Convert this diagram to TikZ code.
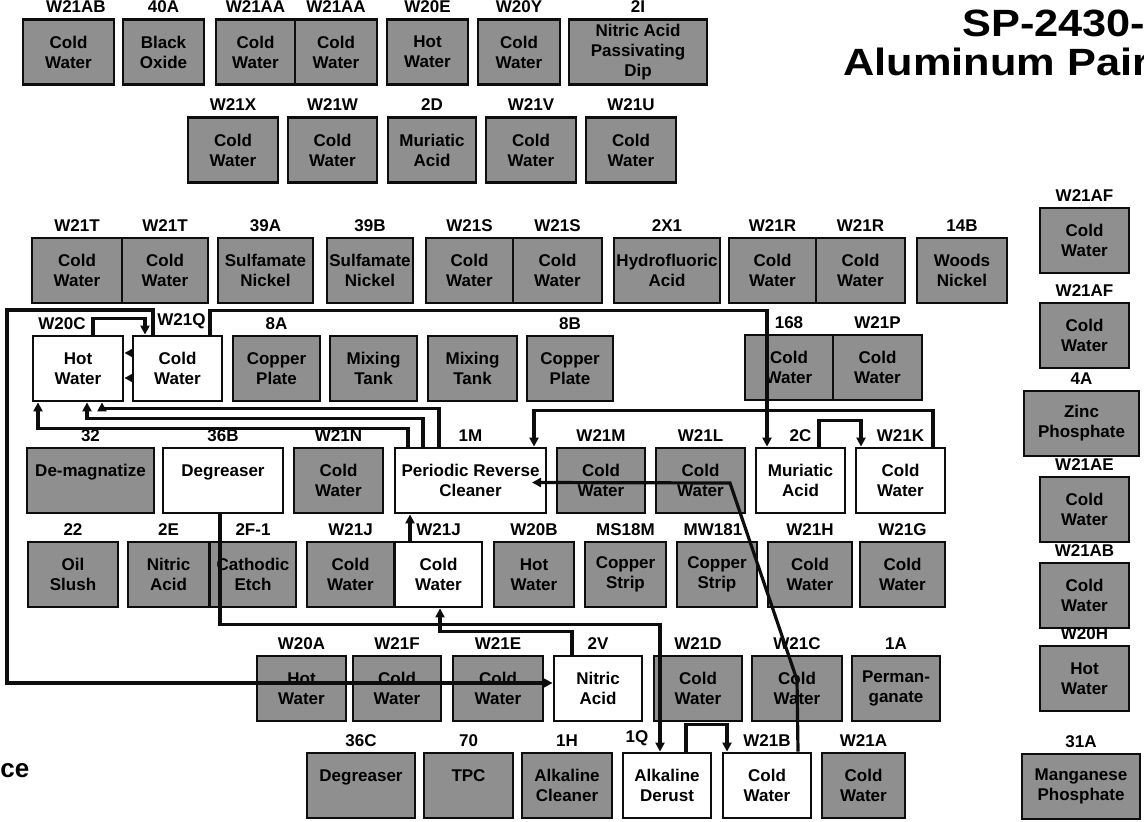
\documentclass[tikz,border=0pt]{standalone}
\usepackage{fontspec}
\setmainfont{Liberation Sans}
\newfontfamily\widefont{Liberation Sans}[FakeStretch=1.14]
\usetikzlibrary{arrows.meta}
\definecolor{Idle}{gray}{0.56}
\definecolor{Line}{gray}{0.05}

\begin{document}
\begin{tikzpicture}[x=0.5pt,y=-0.5pt,>={Triangle[length=4.5pt,width=4.5pt]},
  tank/.style={draw=Line,line width=1.4pt,inner sep=0pt,align=center,
    minimum height=32.5pt,font=\fontsize{8.5}{10}\selectfont\bfseries},
  idle/.style={tank,fill=Idle},
  live/.style={tank,fill=white},
  tag/.style={font=\fontsize{8.5}{10}\selectfont\bfseries,inner sep=0pt},
  every label/.style={tag},label distance=2.5pt,
  flow/.style={draw=Line,line width=1.6pt},
  heading/.style={anchor=base west,inner sep=0pt,font=\widefont\fontsize{19}{21}\selectfont\bfseries}]
\useasboundingbox (0,0) rectangle (1144,822);

% title
\node[heading] (title1) at (962,37) {SP-2430-};
\node[heading] (title2) at (843,76) {Aluminum Pair};
\node[anchor=base west,inner sep=0pt,font=\fontsize{13}{15}\selectfont\bfseries] (legend) at (0,777) {ce};

% row 1
\node[idle,minimum width=45.5pt,label={[xshift=3.75pt]above:W21AB}] (W21ABa) at (68.5,52) {Cold\\Water};
\node[idle,minimum width=40.5pt,label=above:40A] (BO40A) at (163.5,52) {Black\\Oxide};
\node[idle,minimum width=39.5pt,label=above:W21AA] (W21AAa) at (255.5,52) {Cold\\Water};
\node[idle,minimum width=41pt,label=above:W21AA] (W21AAb) at (336,52) {Cold\\Water};
\node[idle,minimum width=40.5pt,label=above:W20E] (W20E) at (427.5,52) {Hot\\Water};
\node[idle,minimum width=41pt,label=above:W20Y] (W20Y) at (519,52) {Cold\\Water};
\node[idle,minimum width=69pt,label=above:2I] (NP2I) at (638,52) {Nitric Acid\\Passivating\\Dip};

% row 2
\node[idle,minimum width=45pt,label=above:W21X] (W21X) at (233,150) {Cold\\Water};
\node[idle,minimum width=44.5pt,label=above:W21W] (W21W) at (332.5,150) {Cold\\Water};
\node[idle,minimum width=44pt,label=above:2D] (MA2D) at (432,150) {Muriatic\\Acid};
\node[idle,minimum width=45pt,label=above:W21V] (W21V) at (531,150) {Cold\\Water};
\node[idle,minimum width=45pt,label=above:W21U] (W21U) at (631,150) {Cold\\Water};

% row 3
\node[idle,minimum width=45pt,label=above:W21T] (W21Ta) at (77,270.5) {Cold\\Water};
\node[idle,minimum width=43pt,label=above:W21T] (W21Tb) at (165,270.5) {Cold\\Water};
\node[idle,minimum width=47.5pt,label=above:39A] (SN39A) at (265.5,270.5) {Sulfamate\\Nickel};
\node[idle,minimum width=43pt,label=above:39B] (SN39B) at (370,270.5) {Sulfamate\\Nickel};
\node[idle,minimum width=43.5pt,label=above:W21S] (W21Sa) at (469.5,270.5) {Cold\\Water};
\node[idle,minimum width=44.5pt,label=above:W21S] (W21Sb) at (557.5,270.5) {Cold\\Water};
\node[idle,minimum width=53pt,label=above:2X1] (HF2X1) at (667,270.5) {Hydrofluoric\\Acid};
\node[idle,minimum width=43.5pt,label=above:W21R] (W21Ra) at (772.5,270.5) {Cold\\Water};
\node[idle,minimum width=44.5pt,label=above:W21R] (W21Rb) at (860.5,270.5) {Cold\\Water};
\node[idle,minimum width=45pt,label=above:14B] (WN14B) at (962,270.5) {Woods\\Nickel};

% row 4
\node[live,minimum width=45pt,label={[xshift=-8pt]above:W20C}] (W20C) at (78,368.5) {Hot\\Water};
\node[live,minimum width=44.5pt,label={[xshift=2pt]above:W21Q}] (W21Q) at (177.5,368.5) {Cold\\Water};
\node[idle,minimum width=43.5pt,label=above:8A] (CP8A) at (276.5,368.5) {Copper\\Plate};
\node[idle,minimum width=43.5pt] (MTa) at (373.5,368.5) {Mixing\\Tank};
\node[idle,minimum width=44.5pt] (MTb) at (472.5,368.5) {Mixing\\Tank};
\node[idle,minimum width=43pt,label=above:8B] (CP8B) at (570,368.5) {Copper\\Plate};
\node[idle,minimum width=44pt,label=above:168] (W168) at (789,367.5) {Cold\\Water};
\node[idle,minimum width=44.5pt,label=above:W21P] (W21P) at (877.5,367.5) {Cold\\Water};

% row 5
\node[idle,minimum width=63.5pt,label=above:32] (DM32) at (90.5,480.5) {De-magnatize\\\mbox{}};
\node[live,minimum width=60pt,label=above:36B] (DG36B) at (223,480.5) {Degreaser\\\mbox{}};
\node[idle,minimum width=44.5pt,label=above:W21N] (W21N) at (338.5,480.5) {Cold\\Water};
\node[live,minimum width=75.5pt,label=above:1M] (PRC) at (470.5,480.5) {Periodic Reverse\\Cleaner};
\node[idle,minimum width=44pt,label=above:W21M] (W21M) at (601,480.5) {Cold\\Water};
\node[idle,minimum width=44.5pt,label=above:W21L] (W21L) at (700.5,480.5) {Cold\\Water};
\node[live,minimum width=44.5pt,label=above:2C] (MA2C) at (800.5,480.5) {Muriatic\\Acid};
\node[live,minimum width=44.5pt,label=above:W21K] (W21K) at (900.5,480.5) {Cold\\Water};

% row 6
\node[idle,minimum width=45pt,label=above:22] (OS22) at (73,574.5) {Oil\\Slush};
\node[idle,minimum width=40.5pt,label=above:2E] (NA2E) at (168.5,574.5) {Nitric\\Acid};
\node[idle,minimum width=43pt,label=above:2F-1] (CE2F) at (253,574.5) {Cathodic\\Etch};
\node[idle,minimum width=43.5pt,label=above:W21J] (W21Ja) at (350.5,574.5) {Cold\\Water};
\node[live,minimum width=43.5pt,label=above:W21J] (W21Jb) at (438.5,574.5) {Cold\\Water};
\node[idle,minimum width=40pt,label=above:W20B] (W20B) at (534,574.5) {Hot\\Water};
\node[idle,minimum width=40.5pt,label=above:MS18M] (CS18M) at (625.5,574.5) {Copper\\Strip};
\node[idle,minimum width=40pt,label={[xshift=-2pt]above:MW181}] (CS181) at (717,574.5) {Copper\\Strip};
\node[idle,minimum width=42pt,label=above:W21H] (W21H) at (810,574.5) {Cold\\Water};
\node[idle,minimum width=42.5pt,label=above:W21G] (W21G) at (902.5,574.5) {Cold\\Water};

% row 7
\node[idle,minimum width=44.5pt,label=above:W20A] (W20A) at (301.5,688.5) {Hot\\Water};
\node[idle,minimum width=44pt,label=above:W21F] (W21F) at (397,688.5) {Cold\\Water};
\node[idle,minimum width=45pt,label=above:W21E] (W21E) at (498,688.5) {Cold\\Water};
\node[live,minimum width=44pt,label=above:2V] (NA2V) at (598,688.5) {Nitric\\Acid};
\node[idle,minimum width=44pt,label=above:W21D] (W21D) at (698,688.5) {Cold\\Water};
\node[idle,minimum width=45pt,label=above:W21C] (W21C) at (797,688.5) {Cold\\Water};
\node[idle,minimum width=44pt,label=above:1A] (PM1A) at (896,688.5) {Perman-\\ganate};

% row 8
\node[idle,minimum width=54pt,label=above:36C] (DG36C) at (361,785.5) {Degreaser\\\mbox{}};
\node[idle,minimum width=44.5pt,label=above:70] (TP70) at (468.5,785.5) {TPC\\\mbox{}};
\node[idle,minimum width=45pt,label=above:1H] (AC1H) at (567,785.5) {Alkaline\\Cleaner};
\node[live,minimum width=44pt,label={[xshift=-15pt]above:1Q}] (AD1Q) at (667,785.5) {Alkaline\\Derust};
\node[live,minimum width=44pt,label=above:W21B] (W21B) at (767,785.5) {Cold\\Water};
\node[idle,minimum width=41.5pt,label=above:W21A] (W21A) at (863.5,785.5) {Cold\\Water};

% right column
\node[idle,minimum width=44.5pt,label=above:W21AF] (W21AFa) at (1084.5,240.5) {Cold\\Water};
\node[idle,minimum width=44.5pt,label=above:W21AF] (W21AFb) at (1084.5,335.5) {Cold\\Water};
\node[idle,minimum width=57.5pt,label=above:4A] (ZP4A) at (1081.5,423.5) {Zinc\\Phosphate};
\node[idle,minimum width=44.5pt,label=above:W21AE] (W21AE) at (1084.5,509.5) {Cold\\Water};
\node[idle,minimum width=44.5pt,label=above:W21AB] (W21ABb) at (1084.5,595.5) {Cold\\Water};
\node[idle,minimum width=44.5pt,label=above:W20H] (W20H) at (1084.5,678.5) {Hot\\Water};
\node[idle,minimum width=59pt,label=above:31A] (MP31A) at (1081,786.5) {Manganese\\Phosphate};

% flows
\draw[flow,->] ([xshift=7.5pt]W20C.north) -- ++(0,-16) -| ([xshift=-16.25pt]W21Q.north);
\draw[flow,->] ([yshift=7.75pt]W21Q.west) -- ([yshift=7.75pt]W20C.east);
\draw[flow,->] ([yshift=-4.75pt]W21Q.west) -- ([yshift=-4.75pt]W20C.east);
\draw[flow,->] ([xshift=-12.25pt]W21Q.north) |- (7,310) |- ([yshift=2.75pt]NA2V.west);
\draw[flow,->] ([xshift=16.25pt]W21Q.north) -- ++(0,-24) -| ([xshift=-16.75pt]MA2C.north);
\draw[flow,->] ([xshift=-31.25pt]PRC.north) -- ++(0,-18) -| ([xshift=-20pt]W20C.south);
\draw[flow,->] ([xshift=-23.75pt]PRC.north) -- ++(0,-28) -| ([xshift=4.5pt]W20C.south);
\draw[flow,->] ([xshift=-15.75pt]PRC.north) -- ++(0,-38) -| ([xshift=12pt]W20C.south);
\draw[flow,->] ([xshift=16.25pt]W21K.north) -- ++(0,-36) -| ([xshift=31.75pt]PRC.north);
\draw[flow,->] ([xshift=9.25pt]MA2C.north) -- ++(0,-26) -| ([xshift=-19.75pt]W21K.north);
\draw[flow,->] ([xshift=15.5pt]W21B.north) -- (797,680) -- (730,483) -- ([xshift=30.75pt,yshift=-1pt]PRC.center);
\draw[flow,->] ([xshift=-1.5pt]DG36B.south) -- ++(0,110) -| ([xshift=-3.5pt]AD1Q.north);
\draw[flow,->] ([xshift=-13pt]NA2V.north) -- ++(0,-23) -| ([xshift=0.75pt]W21Jb.south);
\draw[flow,->] ([xshift=-14.25pt]W21Jb.north) -- ([xshift=-30.25pt]PRC.south);
\draw[flow,->] ([xshift=9.5pt]AD1Q.north) -- ++(0,-27) -| ([xshift=-20pt]W21B.north);
\end{tikzpicture}
\end{document}
